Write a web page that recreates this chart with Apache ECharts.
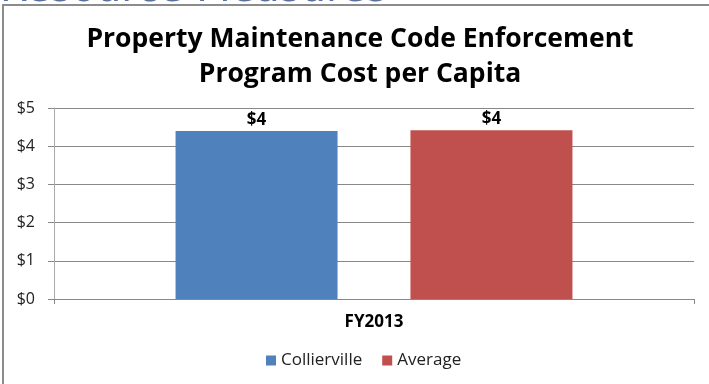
<!DOCTYPE html>
<html><head><meta charset="utf-8">
<script src="https://cdn.jsdelivr.net/npm/echarts@6/dist/echarts.min.js"></script>
<style>html,body{margin:0;padding:0;background:#fff}#c{width:709px;height:384px}</style>
</head><body><div id="c"></div>
<script>
var categories = ['FY2013'];
var seriesNames = ['Collierville', 'Average'];
var collierville = [4.40];
var average = [4.42];
var yTicks = [0, 1, 2, 3, 4, 5];

var chart = echarts.init(document.getElementById('c'));
var font = '"Open Sans", "DejaVu Sans", sans-serif';
chart.setOption({
  animation: false,
  textStyle: { fontFamily: font },
  graphic: [
    { type: 'rect', shape: { x: 3, y: 5, width: 740, height: 420 }, style: { fill: 'none', stroke: '#8c8c8c', lineWidth: 2 }, z: 3 },
    { type: 'text', x: 0, y: -29, z: 2, style: { text: 'Resource Measures', font: '40px "DejaVu Sans", sans-serif', fill: '#5b6f9c' } },
    { type: 'text', x: 360, y: 22, style: { text: 'Property Maintenance Code Enforcement\nProgram Cost per Capita', font: 'bold 26.5px "Open Sans", sans-serif', lineHeight: 35, fill: '#000', textAlign: 'center', align: 'center' } }
  ],
  legend: {
    data: seriesNames, bottom: 10, left: 261,
    itemWidth: 10, itemHeight: 10, itemGap: 20,
    icon: 'rect',
    textStyle: { fontFamily: font, fontSize: 17, color: '#222' }
  },
  grid: { left: 54, right: 15, top: 108, bottom: 85 },
  xAxis: {
    type: 'category', data: categories,
    axisLine: { lineStyle: { color: '#888' } },
    axisTick: { show: true, length: 5, lineStyle: { color: '#888' } },
    axisLabel: { fontFamily: font, fontWeight: 'bold', fontSize: 17, color: '#000', margin: 15 }
  },
  yAxis: {
    type: 'value', min: 0, max: 5, interval: 1,
    axisLine: { show: true, lineStyle: { color: '#aaa' } },
    axisTick: { show: true, length: 6, lineStyle: { color: '#888' } },
    splitLine: { lineStyle: { color: '#888' } },
    axisLabel: { fontFamily: font, fontSize: 16, color: '#222', margin: 19,
      formatter: function (v) { return yTicks.indexOf(v) >= 0 ? '$' + v : ''; } }
  },
  series: [
    { name: seriesNames[0], type: 'bar', data: collierville, barWidth: 162, barGap: '45%',
      itemStyle: { color: '#4f81bd' },
      label: { show: true, position: 'top', distance: 2, fontFamily: font, fontWeight: 'bold', fontSize: 17, color: '#000',
        formatter: function (p) { return '$' + Math.round(p.value); } } },
    { name: seriesNames[1], type: 'bar', data: average, barWidth: 162,
      itemStyle: { color: '#c0504d' },
      label: { show: true, position: 'top', distance: 2, fontFamily: font, fontWeight: 'bold', fontSize: 17, color: '#000',
        formatter: function (p) { return '$' + Math.round(p.value); } } }
  ]
});
</script></body></html>
